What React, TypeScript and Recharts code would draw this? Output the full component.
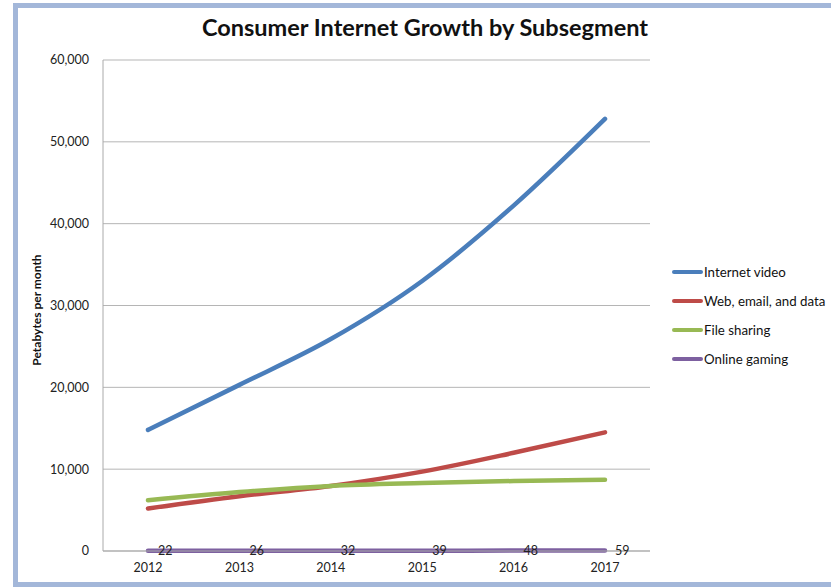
import { LineChart, Line, XAxis, YAxis, CartesianGrid, LabelList } from "recharts";

const years = ["2012", "2013", "2014", "2015", "2016", "2017"];
const internetVideo = [14800, 20300, 25900, 33000, 42200, 52800];
const webEmailData = [5200, 6700, 7950, 9700, 12000, 14500];
const fileSharing = [6200, 7200, 7950, 8300, 8550, 8700];
const onlineGaming = [22, 26, 32, 39, 48, 59];
const yTicks = [0, 10000, 20000, 30000, 40000, 50000, 60000];

const seriesInfo = [
  { key: "video", name: "Internet video", color: "#4a7ebb" },
  { key: "web", name: "Web, email, and data", color: "#be4b48" },
  { key: "file", name: "File sharing", color: "#98b954" },
  { key: "gaming", name: "Online gaming", color: "#7d60a0" },
];

const data = years.map((year, i) => ({
  year,
  video: internetVideo[i],
  web: webEmailData[i],
  file: fileSharing[i],
  gaming: onlineGaming[i],
}));

const font = "Lato, 'Open Sans', sans-serif";

function LegendBox() {
  return (
    <div style={{ position: "absolute", left: 672, top: 257, fontFamily: font, fontSize: 13.3, color: "#111" }}>
      {seriesInfo.map((s) => (
        <div key={s.key} style={{ display: "flex", alignItems: "center", height: 29 }}>
          <span style={{ display: "inline-block", width: 31, height: 4, borderRadius: 2, background: s.color }} />
          <span style={{ marginLeft: 1 }}>{s.name}</span>
        </div>
      ))}
    </div>
  );
}

export default function App() {
  return (
    <div style={{ position: "absolute", left: 0, top: 0, width: 831, height: 587, background: "#fff", overflow: "hidden" }}>
      <div
        style={{
          position: "absolute",
          left: 13,
          top: 3,
          width: 840,
          height: 574,
          border: "5px solid #a3b7d9",
          boxSizing: "content-box",
        }}
      />
      <LineChart
        width={831}
        height={587}
        data={data}
        margin={{ top: 60, right: 181, left: 43, bottom: 6 }}
        style={{ position: "absolute", left: 0, top: 0 }}
      >
        <text x={425} y={36} textAnchor="middle" fontFamily={font} fontWeight="bold" fontSize={23.5} fill="#111">
          Consumer Internet Growth by Subsegment
        </text>
        <text
          x={41}
          y={310}
          textAnchor="middle"
          fontFamily={font}
          fontWeight="bold"
          fontSize={12}
          fill="#111"
          transform="rotate(-90 41 310)"
        >
          Petabytes per month
        </text>
        <CartesianGrid vertical={false} stroke="#b5b5b5" />
        <XAxis
          dataKey="year"
          padding={{ left: 45, right: 45 }}
          tick={{ fill: "#222", fontSize: 12.5, fontFamily: font }}
          tickLine={false}
          tickSize={0}
          tickMargin={12}
          axisLine={{ stroke: "#aaa" }}
        />
        <YAxis
          width={60}
          domain={[0, 60000]}
          ticks={yTicks}
          tick={{ fill: "#222", fontSize: 12.5, fontFamily: font }}
          tickLine={false}
          tickSize={6}
          tickMargin={8}
          axisLine={{ stroke: "#aaa" }}
          tickFormatter={(v) => v.toLocaleString("en-US")}
        />
        {seriesInfo.map((s) => (
          <Line
            key={s.key}
            type="monotone"
            dataKey={s.key}
            name={s.name}
            stroke={s.color}
            strokeWidth={4.5}
            strokeLinecap="round"
            dot={false}
            activeDot={false}
            isAnimationActive={false}
          >
            {s.key === "gaming" && (
              <LabelList dataKey="gaming" position="right" offset={10} fill="#222" fontSize={12.5} fontFamily={font} />
            )}
          </Line>
        ))}
      </LineChart>
      <LegendBox />
    </div>
  );
}
